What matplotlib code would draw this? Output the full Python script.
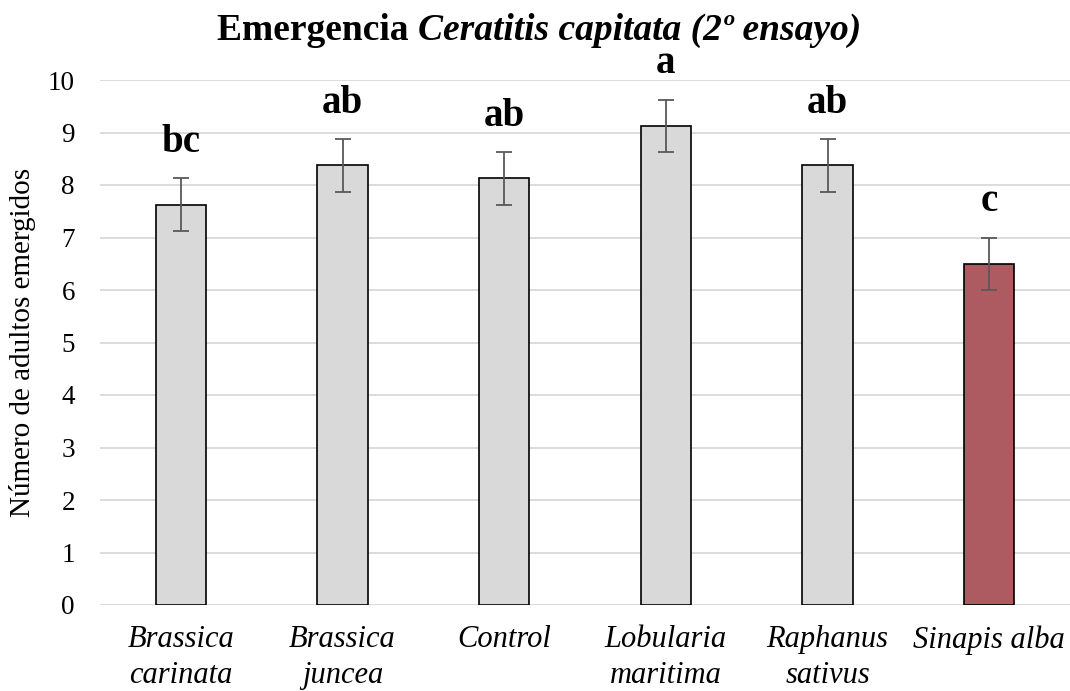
import matplotlib
matplotlib.use("Agg")
import matplotlib.pyplot as plt

categories = ["Brassica\ncarinata", "Brassica\njuncea", "Control",
              "Lobularia\nmaritima", "Raphanus\nsativus", "Sinapis alba"]
means = [7.625, 8.375, 8.125, 9.125, 8.375, 6.5]
errors = [0.5, 0.5, 0.5, 0.5, 0.5, 0.5]
groups = ["bc", "ab", "ab", "a", "ab", "c"]
colors = ["#d9d9d9"] * 5 + ["#ad5a61"]
yticks = list(range(0, 11))

plt.rcParams["font.family"] = ["Liberation Serif", "DejaVu Serif"]

W, H = 1070, 691
fig = plt.figure(figsize=(W / 100, H / 100), dpi=100)
ax = fig.add_axes([100 / W, (H - 605) / H, 970 / W, 525 / H])

x = list(range(len(categories)))
ax.bar(x, means, width=0.31, color=colors, edgecolor="black", linewidth=1.2, zorder=3)
ax.errorbar(x, means, yerr=errors, fmt="none", ecolor="#595959",
            elinewidth=1.3, capsize=5.5, capthick=1.3, zorder=4)

# significance letters above each error bar
for xi, m, e, g in zip(x, means, errors, groups):
    ax.annotate(g, (xi, m + e), xytext=(0, 19), textcoords="offset points",
                ha="center", va="baseline", fontsize=28, fontweight="bold")

ax.set_xlim(-0.5, len(categories) - 0.5)
ax.set_ylim(0, 10)
ax.set_yticks(yticks)
ax.yaxis.grid(True, color="#d9d9d9", linewidth=1.3, zorder=0)
ax.set_axisbelow(True)
for s in ["top", "right", "left", "bottom"]:
    ax.spines[s].set_visible(False)
ax.tick_params(axis="both", length=0)
ax.tick_params(axis="y", pad=18, labelsize=19.5)
ax.tick_params(axis="x", pad=14.5, labelsize=22)
ax.set_xticks(x)
ax.set_xticklabels(categories, style="italic", linespacing=1.32)
ax.set_ylabel("Número de adultos emergidos", fontsize=21)
ax.yaxis.set_label_coords((36 - 100) / 970, 0.5)

# title: upright bold word followed by bold italic species name
fig.canvas.draw()
renderer = fig.canvas.get_renderer()
title_y = 1 - 30 / H
t1 = fig.text(0, title_y, "Emergencia ", fontsize=27, fontweight="bold",
              ha="left", va="center")
t2 = fig.text(0, title_y, "Ceratitis capitata (2º ensayo)", fontsize=27,
              fontweight="bold", style="italic", ha="left", va="center")
w1 = t1.get_window_extent(renderer).width
w2 = t2.get_window_extent(renderer).width
x0 = (W / 2 - (w1 + w2) / 2 + 4)
t1.set_x(x0 / W)
t2.set_x((x0 + w1) / W)

fig.savefig("out.png", dpi=100)
